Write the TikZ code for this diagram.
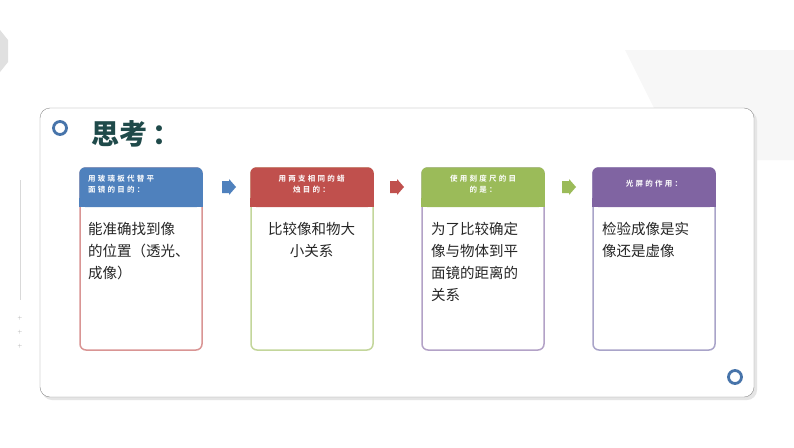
\documentclass[tikz,border=0pt]{standalone}
\usepackage{fontspec}
\newfontfamily\cjk{Noto Sans CJK SC}
\newfontfamily\cjkh[LetterSpace=30]{Noto Sans CJK SC Bold}
\usetikzlibrary{shapes.geometric}
\definecolor{hb}{HTML}{4F81BD}\definecolor{hr}{HTML}{C0504D}
\definecolor{hg}{HTML}{9BBB59}\definecolor{hp}{HTML}{8064A2}
\definecolor{bpk}{HTML}{D99594}\definecolor{bgr}{HTML}{C3D69B}
\definecolor{bpu}{HTML}{B3A2C7}\definecolor{bpv}{HTML}{A9A4C9}
\definecolor{ttl}{HTML}{1F4A4A}
\tikzset{x=1pt,y=-1pt,
 body/.style={font=\cjk\fontsize{14.5}{22}\selectfont,text=black!85,align=left,anchor=north west,inner sep=0},
 head/.style={font=\cjkh\fontsize{7.5}{11}\selectfont,text=white,align=center,inner sep=0}}
\begin{document}
\begin{tikzpicture}
\useasboundingbox (0,0) rectangle (794,447);
\fill[white] (0,0) rectangle (794,447);
\fill[black!12] (0,30) -- (8,40) -- (8,62) -- (0,72) -- cycle;
\fill[black!3] (625,50) -- (794,50) -- (794,160) -- (680,160) -- cycle;
\draw[black!15] (20,180) -- (20,300);
\foreach \yy in {318,332,346} \node[font=\tiny,text=black!40] at (20,\yy) {+};
% panel
\fill[black!10,rounded corners=10] (42,111) rectangle (757,400);
\draw[black!45,fill=white,rounded corners=10] (40,108) rectangle (754,397);
\node[circle,draw=hb!90!black,line width=2.8pt,minimum size=13pt,inner sep=0] (c1) at (60,128) {};
\node[circle,draw=hb!90!black,line width=2.8pt,minimum size=13pt,inner sep=0] (c2) at (735,377) {};
\node[font=\cjk\bfseries\fontsize{28}{30}\selectfont,text=ttl,anchor=west] (title) at (88,134) {思考\,：};
\foreach \x/\hc/\bc/\n in {80/hb/bpk/1,251/hr/bgr/2,422/hg/bpu/3,593/hp/bpv/4}{
  \draw[\bc,line width=1.5pt,rounded corners=6] (\x,168) rectangle (\x+122,350);
  \fill[\hc,rounded corners=6] (\x-0.75,167.25) rectangle (\x+122.75,207);
  \fill[\hc] (\x-0.75,198) rectangle (\x+122.75,207);
  \coordinate (b\n) at (\x,168);
}
\node[head,anchor=north west,align=left] (h1) at (88,175) {用玻璃板代替平\\面镜的目的：};
\node[head,anchor=north] (h2) at (311.5,175) {用两支相同的蜡\\烛目的：};
\node[head,anchor=north] (h3) at (483,175) {使用刻度尺的目\\的是：};
\node[head] (h4) at (654,184) {光屏的作用：};
\node[body] (t1) at (88,222) {能准确找到像\\的位置（透光、\\成像）};
\node[body,align=center,anchor=north] (t2) at (311.5,222) {比较像和物大\\小关系};
\node[body] (t3) at (431,222) {为了比较确定\\像与物体到平\\面镜的距离的\\关系};
\node[body] (t4) at (602,222) {检验成像是实\\像还是虚像};
\foreach \x/\c in {222/hb,390/hr,562/hg}
  \fill[\c] (\x,181) -- (\x+7,181) -- (\x+7,179) -- (\x+14,187) -- (\x+7,195) -- (\x+7,193) -- (\x,193) -- cycle;
\end{tikzpicture}
\end{document}
